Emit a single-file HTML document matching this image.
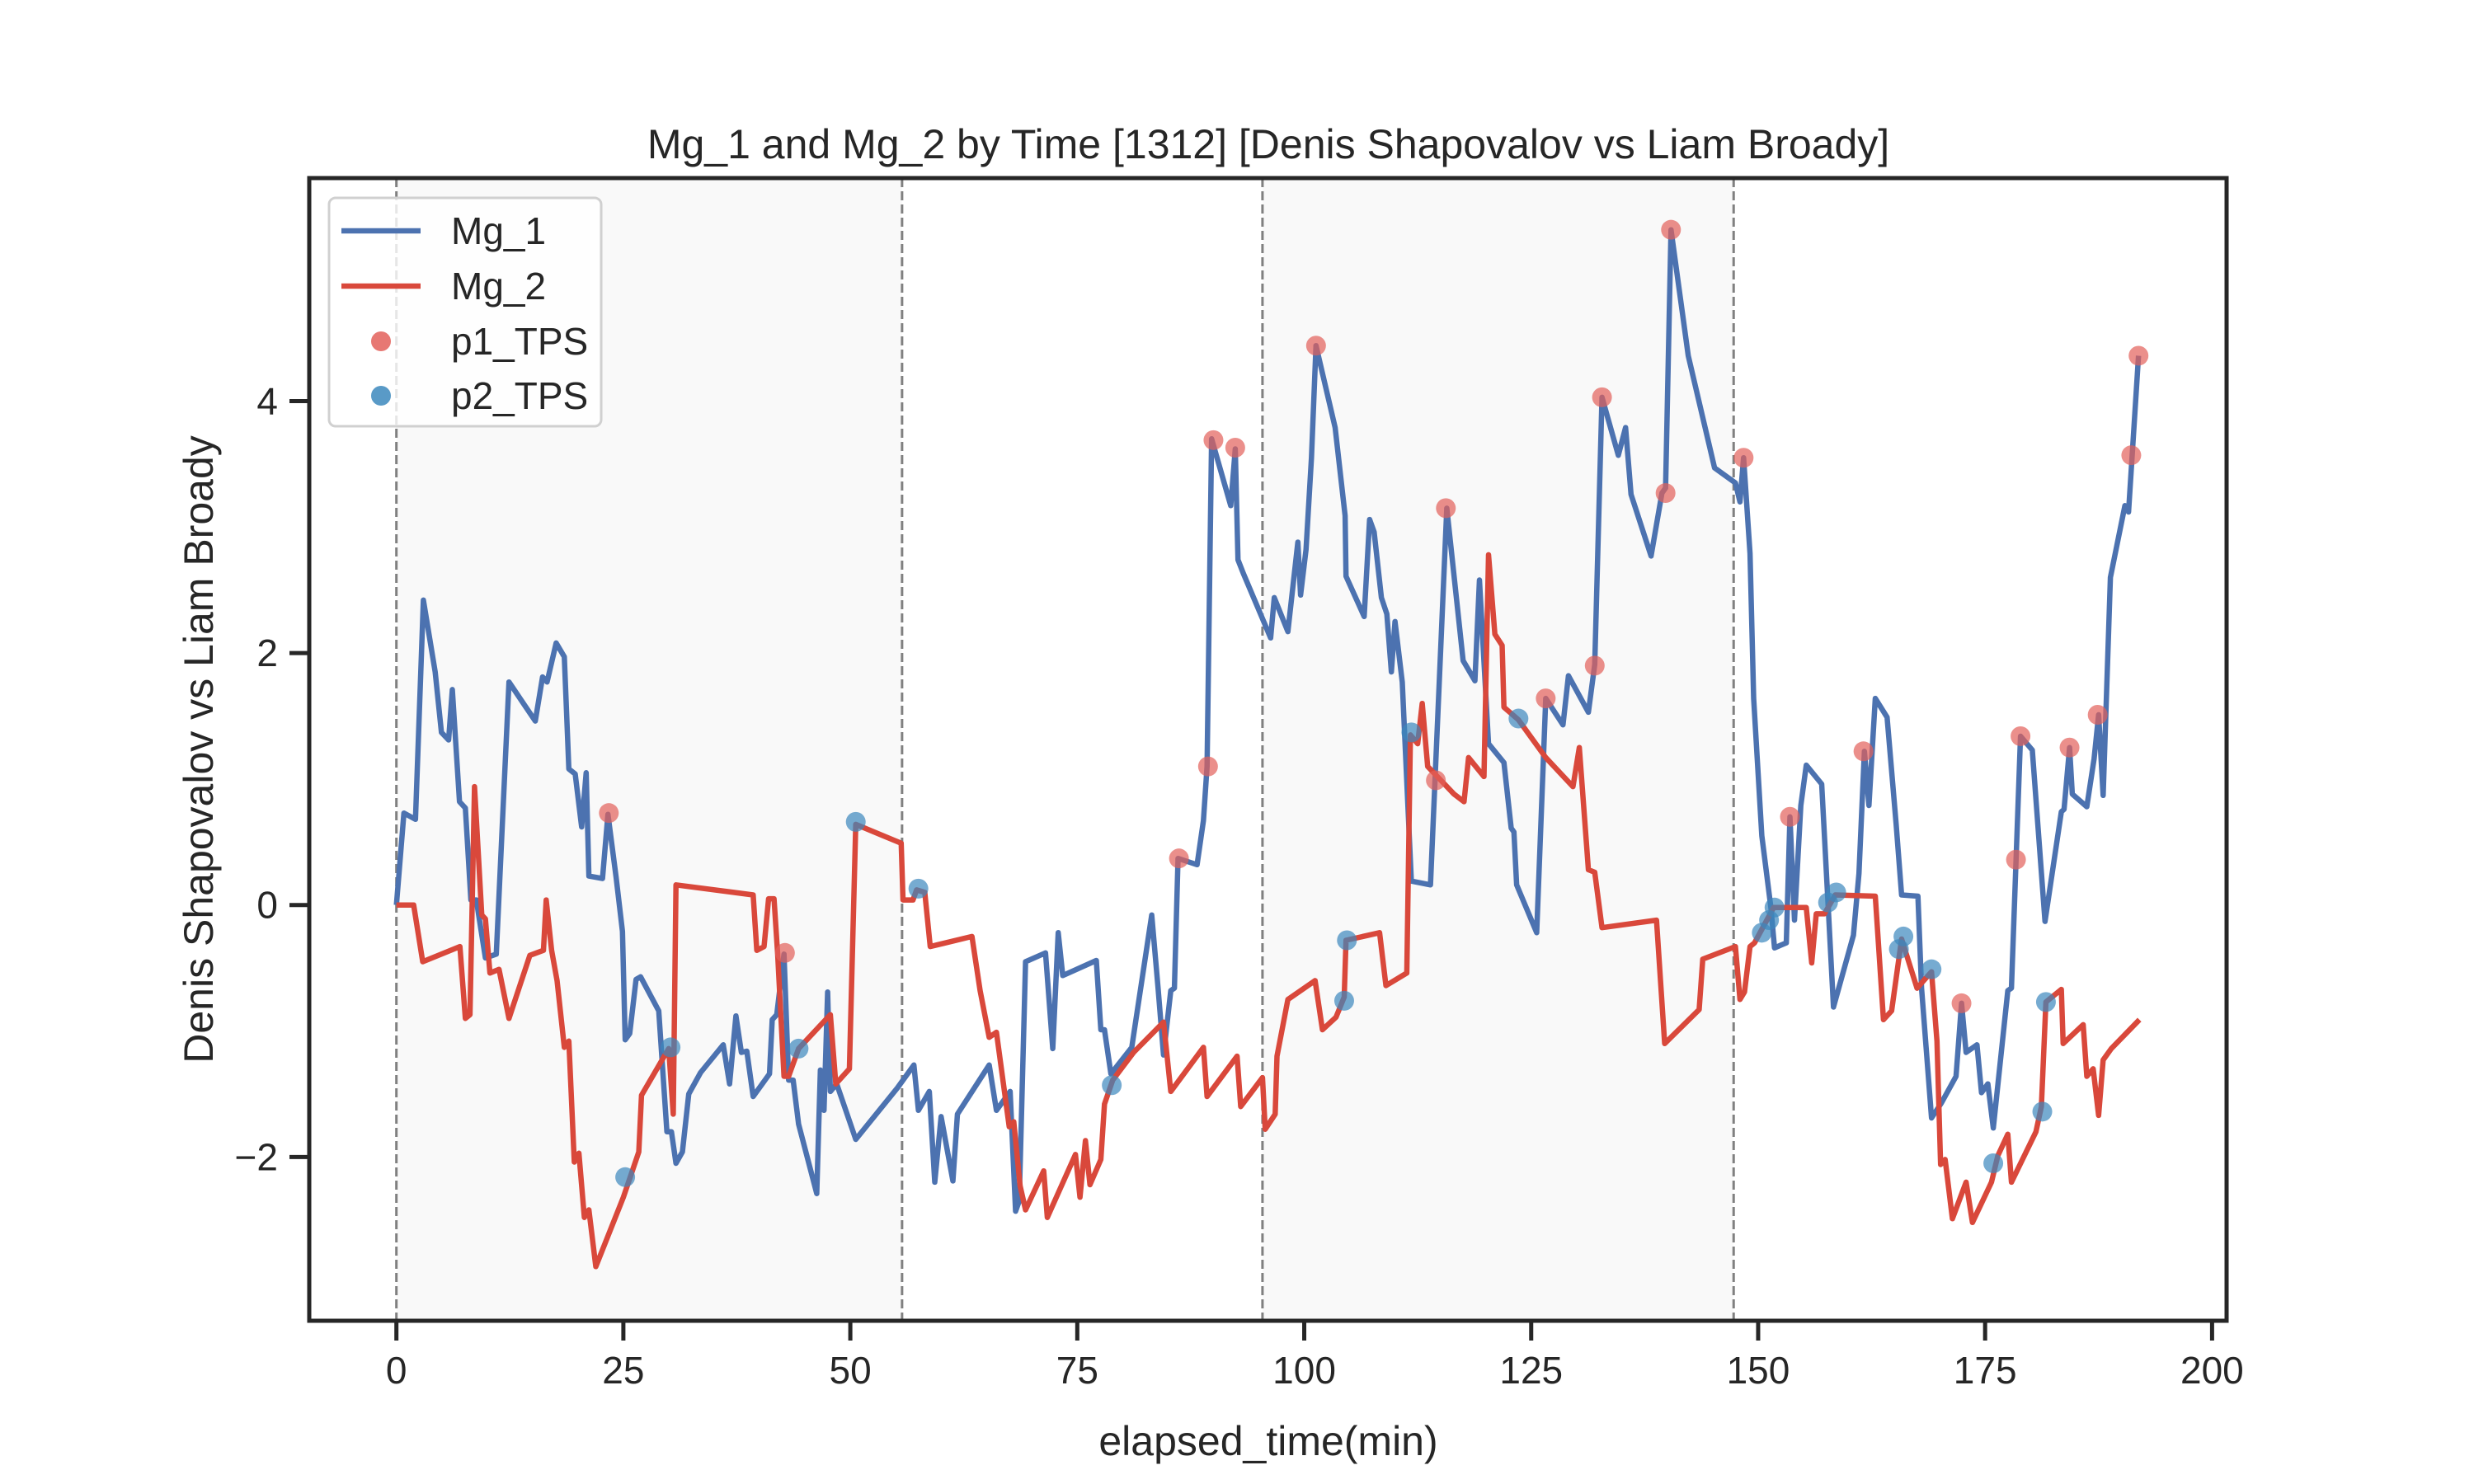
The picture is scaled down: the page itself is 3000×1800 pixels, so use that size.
<!DOCTYPE html>
<html><head><meta charset="utf-8"><style>
html,body{margin:0;padding:0;background:#fff;}
svg{display:block;font-family:"Liberation Sans",sans-serif;}
</style></head><body>
<svg id="chart" width="3000" height="1800" viewBox="0 0 3000 1800" xmlns="http://www.w3.org/2000/svg">
<rect x="0" y="0" width="3000" height="1800" fill="#fff"/>
<g id="plot"></g>
</svg>
<script>
const mg1T=[0,0.83,2.1,2.97,4.27,4.96,5.75,6.16,6.95,7.6,8.2,8.8,9.8,11,12.4,15.3,16.1,16.6,17.6,18.5,19,19.7,20.4,20.9,21.2,22.7,23.3,24.2,24.9,25.2,25.7,26.4,26.9,28.9,29.8,30.3,30.8,31.5,32.2,33.5,36,36.7,37.4,38,38.6,39.3,41.1,41.4,41.9,42.7,43.2,43.7,44.3,46.3,46.7,47.1,47.5,47.8,48.5,50.6,55.2,57,57.5,58.7,59.3,60,61.3,61.8,65.3,66.1,67.6,68.2,68.6,69.3,71.5,72.3,72.9,73.4,77.1,77.6,78,78.7,81,81.9,83.2,83.9,84.5,85.3,85.7,86.1,88.2,88.9,89.3,89.8,91.9,92.4,92.7,93.3,96.3,96.7,98.2,99.3,99.6,100.2,100.8,101.3,103.4,104.5,104.6,106.6,107.2,107.7,108.5,109.1,109.6,110,110.8,111.8,113.9,115.7,117.5,118.8,119.3,120.3,122,122.8,123.1,123.4,125.6,126.6,128.5,129.1,131.3,132,132.8,134.6,135.4,136,138.2,139.4,139.8,140.4,142.3,145.2,147.5,148,148.4,149.1,149.5,150.4,151.4,151.8,153.1,153.5,154,154.7,155.3,157,157.7,158.3,160.5,161.1,161.7,162.2,162.9,164.2,165.2,165.8,167.6,168,169.1,170.2,171.8,172.4,172.9,174.1,174.6,175.3,175.9,177.5,177.9,178.9,180.2,181.6,183.4,183.7,184.3,184.6,186.2,187,187.5,188,188.8,190.4,190.8,191.9];
const mg1V=[0,0.73,0.68,2.42,1.85,1.37,1.31,1.71,0.82,0.77,0.04,0.04,-0.42,-0.39,1.77,1.46,1.81,1.77,2.08,1.97,1.08,1.04,0.62,1.05,0.23,0.21,0.72,0.22,-0.21,-1.07,-1.02,-0.59,-0.57,-0.84,-1.8,-1.8,-2.05,-1.96,-1.5,-1.33,-1.11,-1.42,-0.88,-1.17,-1.16,-1.52,-1.34,-0.91,-0.87,-0.39,-1.39,-1.39,-1.74,-2.29,-1.31,-1.63,-0.69,-1.48,-1.42,-1.86,-1.45,-1.27,-1.63,-1.48,-2.2,-1.68,-2.19,-1.66,-1.27,-1.63,-1.48,-2.43,-2.35,-0.45,-0.38,-1.14,-0.22,-0.56,-0.44,-0.99,-0.99,-1.34,-1.13,-0.7,-0.08,-0.66,-1.19,-0.68,-0.66,0.37,0.32,0.67,1.1,3.7,3.17,3.62,2.74,2.63,2.12,2.44,2.17,2.88,2.46,2.82,3.55,4.44,3.79,3.09,2.61,2.29,3.06,2.96,2.44,2.31,1.85,2.25,1.77,0.19,0.16,3.15,1.94,1.78,2.58,1.28,1.13,0.61,0.58,0.16,-0.22,1.64,1.43,1.82,1.53,1.91,4.03,3.57,3.79,3.26,2.77,3.27,3.31,5.36,4.36,3.47,3.35,3.2,3.55,2.79,1.64,0.55,-0.02,-0.34,-0.3,0.7,-0.12,0.79,1.11,0.96,0.01,-0.81,-0.24,0.25,1.22,0.79,1.64,1.49,0.64,0.08,0.07,-0.66,-1.69,-1.57,-1.36,-0.78,-1.17,-1.11,-1.49,-1.42,-1.77,-0.68,-0.66,1.34,1.23,-0.13,0.74,0.76,1.25,0.88,0.78,1.16,1.51,0.87,2.6,3.17,3.12,4.36];
const mg2T=[0,1.9,2.9,7.0,7.6,8.1,8.6,9.4,9.8,10.3,11.3,12.4,14.7,16.2,16.5,17.1,17.7,18.5,19,19.6,20.1,20.7,21.2,21.97,25,26.7,27,30,30.5,30.8,39.3,39.7,40.5,41,41.6,42,42.7,43.2,44.3,47.8,48.4,49.9,50.6,55.6,55.8,56.9,57.3,58.2,58.8,63.4,64.3,65.3,66.1,67.5,68,68.7,69.3,71.3,71.7,74.8,75.3,75.9,76.4,77.6,78,78.9,81.2,84.5,85.3,88.9,89.3,92.6,93,95.4,95.7,96.8,97,98.2,101.2,102,103.5,104.4,104.6,108.3,109,111.3,111.7,112.5,113,113.6,116.5,117.6,118.1,119.8,120.3,121,121.8,122,123.6,126.6,129.6,130.3,131.3,132,132.8,138.8,139.7,143.5,143.9,147.5,148,148.5,149.1,149.6,151.7,155.3,155.9,156.4,157.3,158.5,162.9,163.8,164.7,165.8,167.5,168.6,169.1,169.7,170.1,170.6,171.4,172.9,173.6,175.7,176.4,177.5,177.9,180.6,181.2,181.7,183.4,183.6,185.8,186.2,186.9,187.5,188,188.9,192];
const mg2V=[0,0,-0.45,-0.33,-0.9,-0.87,0.94,-0.08,-0.11,-0.54,-0.51,-0.9,-0.4,-0.36,0.04,-0.36,-0.6,-1.13,-1.08,-2.04,-1.97,-2.48,-2.42,-2.87,-2.32,-1.96,-1.51,-1.14,-1.66,0.16,0.08,-0.36,-0.33,0.05,0.05,-0.39,-1.36,-1.36,-1.14,-0.87,-1.42,-1.3,0.64,0.49,0.04,0.04,0.12,0.1,-0.33,-0.25,-0.68,-1.05,-1.01,-1.76,-1.72,-2.23,-2.42,-2.11,-2.48,-1.98,-2.32,-1.87,-2.22,-2.02,-1.58,-1.39,-1.17,-0.93,-1.48,-1.13,-1.52,-1.2,-1.6,-1.37,-1.78,-1.66,-1.2,-0.75,-0.6,-0.99,-0.89,-0.73,-0.28,-0.22,-0.64,-0.54,1.35,1.28,1.6,1.1,0.88,0.82,1.17,1.02,2.78,2.15,2.06,1.57,1.47,1.17,0.94,1.25,0.28,0.26,-0.18,-0.12,-1.1,-0.83,-0.43,-0.33,-0.75,-0.69,-0.33,-0.3,-0.02,-0.02,-0.46,-0.07,-0.07,0.08,0.07,-0.91,-0.84,-0.27,-0.66,-0.57,-0.53,-1.08,-2.06,-2.02,-2.49,-2.2,-2.52,-2.2,-1.99,-1.82,-2.2,-1.8,-1.6,-0.77,-0.67,-1.1,-0.95,-1.36,-1.3,-1.67,-1.23,-1.14,-0.91];
const p1T=[23.4,42.8,86.2,89.4,90,92.4,101.3,114.5,115.6,126.6,132,132.8,139.8,140.4,148.4,153.5,161.6,172.4,178.4,178.9,184.3,187.4,191.1,191.9];
const p1V=[0.73,-0.38,0.37,1.1,3.69,3.63,4.44,0.99,3.15,1.64,1.9,4.03,3.27,5.36,3.55,0.7,1.22,-0.78,0.36,1.34,1.25,1.51,3.57,4.36];
const p2T=[25.2,30.2,44.3,50.6,57.5,78.8,104.4,104.7,111.8,123.6,150.4,151.2,151.8,157.7,158.6,165.5,166,169.1,175.9,181.3,181.7];
const p2V=[-2.16,-1.13,-1.14,0.66,0.13,-1.43,-0.76,-0.28,1.37,1.48,-0.22,-0.12,-0.02,0.02,0.1,-0.35,-0.25,-0.51,-2.05,-1.64,-0.77];
const setBounds=[0,55.7,95.4,147.3];
const shadedSets=[[0,55.7],[95.4,147.3]];
const xTicks=[0,25,50,75,100,125,150,175,200];
const yTicks=[-2,0,2,4];

const L=375,R=2700,T=216,B=1602;
const xMin=-9.6,xMax=201.6,yMin=-3.30,yMax=5.77;
const sx=v=>L+(v-xMin)/(xMax-xMin)*(R-L);
const sy=v=>B-(v-yMin)/(yMax-yMin)*(B-T);
const NS='http://www.w3.org/2000/svg';
const g=document.getElementById('plot');
function mk(tag,attrs,parent){const e=document.createElementNS(NS,tag);for(const k in attrs)e.setAttribute(k,attrs[k]);(parent||g).appendChild(e);return e;}

shadedSets.forEach((s,i)=>{
  const r=mk('rect',{x:sx(s[0]),y:T,width:sx(s[1])-sx(s[0]),height:B-T,fill:'#f9f9f9'});
  
  
});
setBounds.forEach((b,i)=>{
  const l=mk('line',{x1:sx(b),x2:sx(b),y1:T,y2:B,stroke:'#808080','stroke-width':3,'stroke-dasharray':'11,5'});
  
  
});
function line(ts,vs,color,name){
  const d=ts.map((t,i)=>(i?'L':'M')+sx(t).toFixed(1)+' '+sy(vs[i]).toFixed(1)).join(' ');
  const p=mk('path',{d:d,fill:'none',stroke:color,'stroke-width':6.5,'stroke-linejoin':'round'});
  
  
}
line(mg1T,mg1V,'#4c72b0','mg1-line');
line(mg2T,mg2V,'#d9483b','mg2-line');
function pts(ts,vs,color,name){
  ts.forEach((t,i)=>{
    const c=mk('circle',{cx:sx(t),cy:sy(vs[i]),r:12,fill:color,'fill-opacity':0.7});
    
    
  });
}
pts(p1T,p1V,'#e3605a','p1-tps-point');
pts(p2T,p2V,'#3c88bd','p2-tps-point');

const fr=mk('rect',{x:L,y:T,width:R-L,height:B-T,fill:'none',stroke:'#262626','stroke-width':5});



xTicks.forEach(v=>{
  const tk=mk('line',{x1:sx(v),x2:sx(v),y1:B,y2:B+24,stroke:'#262626','stroke-width':5});
  
  
  const tx=mk('text',{x:sx(v),y:B+76,'font-size':46,fill:'#262626','text-anchor':'middle'});
  tx.textContent=v;
  
  
});
yTicks.forEach(v=>{
  const tk=mk('line',{x1:L-24,x2:L,y1:sy(v),y2:sy(v),stroke:'#262626','stroke-width':5});
  
  
  const tx=mk('text',{x:L-38,y:sy(v)+16,'font-size':46,fill:'#262626','text-anchor':'end'});
  tx.textContent=v<0?'\u2212'+(-v):String(v);
  
  
});
</script>
<svg style="position:absolute;left:0;top:0" width="3000" height="1800">
<text x="1538" y="192" font-size="50" fill="#262626" text-anchor="middle" font-family="Liberation Sans, sans-serif">Mg_1 and Mg_2 by Time [1312] [Denis Shapovalov vs Liam Broady]</text>
<text x="1538" y="1765" font-size="50" fill="#262626" text-anchor="middle" font-family="Liberation Sans, sans-serif">elapsed_time(min)</text>
<text x="0" y="0" font-size="50" fill="#262626" text-anchor="middle" font-family="Liberation Sans, sans-serif" transform="translate(258,909) rotate(-90)">Denis Shapovalov vs Liam Broady</text>
<g>
<rect x="399" y="240" width="330" height="277" rx="8" fill="#fff" fill-opacity="0.8" stroke="#d0d0d0" stroke-width="3"/>
<line x1="414" y1="280" x2="510" y2="280" stroke="#4c72b0" stroke-width="6.5"/>
<text x="547" y="296" font-size="46" fill="#262626" font-family="Liberation Sans, sans-serif">Mg_1</text>
<line x1="414" y1="347" x2="510" y2="347" stroke="#d9483b" stroke-width="6.5"/>
<text x="547" y="363" font-size="46" fill="#262626" font-family="Liberation Sans, sans-serif">Mg_2</text>
<circle cx="462" cy="414" r="12" fill="#e3605a" fill-opacity="0.85"/>
<text x="547" y="430" font-size="46" fill="#262626" font-family="Liberation Sans, sans-serif">p1_TPS</text>
<circle cx="462" cy="480" r="12" fill="#3c88bd" fill-opacity="0.85"/>
<text x="547" y="496" font-size="46" fill="#262626" font-family="Liberation Sans, sans-serif">p2_TPS</text>
</g>
</svg>
</body></html>
